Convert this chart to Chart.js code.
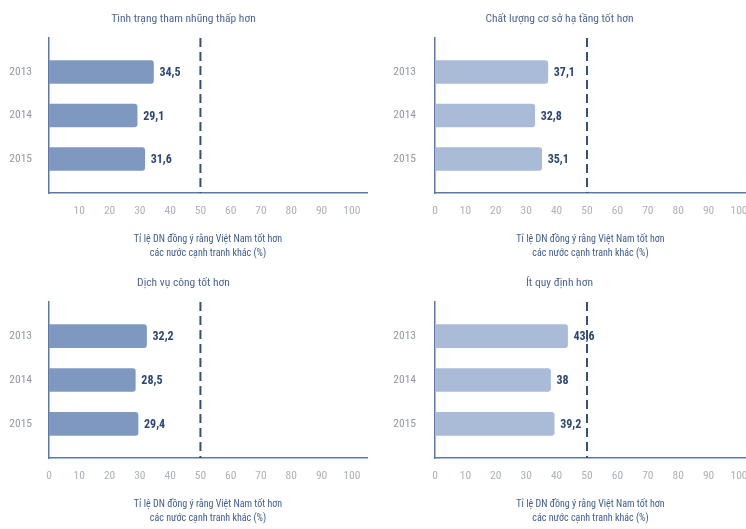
<!DOCTYPE html>
<html>
<head>
<meta charset="utf-8">
<script src="https://cdn.jsdelivr.net/npm/chart.js@4"></script>
<style>
  html, body { margin: 0; padding: 0; background: #fff; }
  #wrap { position: relative; width: 746px; height: 529px; overflow: hidden; }
  canvas { position: absolute; }
</style>
</head>
<body>
<div id="wrap">
  <canvas id="c1" width="373" height="264" style="left:0;top:0"></canvas>
  <canvas id="c2" width="373" height="264" style="left:373px;top:0"></canvas>
  <canvas id="c3" width="373" height="265" style="left:0;top:264px"></canvas>
  <canvas id="c4" width="373" height="265" style="left:373px;top:264px"></canvas>
</div>
<script>
// Données
const years = ['2013', '2014', '2015'];
const corruption = [34.5, 29.1, 31.6];      // Tình trạng tham nhũng thấp hơn
const infrastructure = [37.1, 32.8, 35.1];  // Chất lượng cơ sở hạ tầng tốt hơn
const publicService = [32.2, 28.5, 29.4];   // Dịch vụ công tốt hơn
const regulation = [43.6, 38, 39.2];        // Ít quy định hơn
const xTicks = [0, 10, 20, 30, 40, 50, 60, 70, 80, 90, 100];
const refLine = 50;
const xTitle = ['Tỉ lệ DN đồng ý rằng Việt Nam tốt hơn', 'các nước cạnh tranh khác (%)'];

const FONT = "'Roboto Condensed', 'Roboto', sans-serif";
const darkBlue = '#2d4773';
const axisBlue = '#5b78a6';

// Ligne pointillée à 50
const refLinePlugin = {
    id: 'refLine',
    afterDatasetsDraw(chart) {
        const x = chart.scales.x.getPixelForValue(refLine);
        const { top, bottom } = chart.chartArea;
        const ctx = chart.ctx;
        ctx.save();
        ctx.strokeStyle = '#34507f';
        ctx.lineWidth = 2;
        ctx.setLineDash([9, 5]);
        ctx.beginPath();
        ctx.moveTo(x, top);
        ctx.lineTo(x, bottom);
        ctx.stroke();
        ctx.restore();
    }
};

// Étiquettes de valeur au bout des barres
const valueLabelPlugin = {
    id: 'valueLabels',
    afterDatasetsDraw(chart) {
        const ctx = chart.ctx;
        const meta = chart.getDatasetMeta(0);
        ctx.save();
        ctx.font = 'bold 12px ' + FONT;
        ctx.fillStyle = darkBlue;
        ctx.textAlign = 'left';
        ctx.textBaseline = 'middle';
        meta.data.forEach((bar, i) => {
            const v = chart.data.datasets[0].data[i].x;
            ctx.fillText(String(v).replace('.', ','), bar.x + 6, bar.y + 1);
        });
        ctx.restore();
    }
};

function makeChart(id, title, values, color, opts) {
    return new Chart(document.getElementById(id), {
        type: 'bar',
        data: {
            datasets: [{
                data: values.map((v, i) => ({ x: v, y: i })),
                backgroundColor: color,
                barThickness: 23,
                borderRadius: 3
            }]
        },
        options: {
            indexAxis: 'y',
            responsive: false,
            animation: false,
            layout: { padding: { right: opts.padRight } },
            plugins: {
                legend: { display: false },
                tooltip: { enabled: false },
                title: {
                    display: true,
                    text: title,
                    color: '#4d6790',
                    font: { family: FONT, size: 11.5, weight: 'normal', lineHeight: '16px' },
                    padding: { top: 11, bottom: 11 }
                }
            },
            scales: {
                x: {
                    type: 'linear',
                    min: 0,
                    max: opts.xMax,
                    afterBuildTicks(scale) {
                        // la borne max est ajoutée sans libellé
                        scale.ticks = xTicks.concat([opts.xMax]).map(t => ({ value: t }));
                    },
                    afterFit(scale) {
                        scale.height = 71;
                        scale.paddingLeft = 0;
                        scale.paddingRight = 0;
                    },
                    grid: { display: false, drawTicks: false },
                    border: { display: true, color: axisBlue, width: 1.5 },
                    ticks: {
                        padding: 11,
                        color: '#aab2be',
                        font: { family: FONT, size: 11.5 },
                        maxRotation: 0,
                        autoSkip: false,
                        callback: v => (v % 10 !== 0 || (opts.hideZero && v === 0)) ? '' : v
                    },
                    title: {
                        display: true,
                        text: xTitle,
                        color: '#3f5d8c',
                        font: { family: FONT, size: 10, lineHeight: '14px' },
                        padding: { top: 0, bottom: 4 }
                    }
                },
                y: {
                    type: 'linear',
                    reverse: true,
                    offset: false,
                    min: -0.78,
                    max: 2.78,
                    afterBuildTicks(scale) {
                        scale.ticks = years.map((y, i) => ({ value: i }));
                    },
                    afterFit(scale) { scale.width = opts.left; },
                    grid: { display: false, drawTicks: false },
                    border: { display: true, color: axisBlue, width: 1.5 },
                    ticks: {
                        padding: opts.tickPad,
                        color: '#9098a4',
                        font: { family: FONT, size: 11.5 },
                        callback: v => years[v] !== undefined ? years[v] : ''
                    }
                }
            }
        },
        plugins: [refLinePlugin, valueLabelPlugin]
    });
}

const leftColor = '#7f98c0';
const rightColor = '#a9bbd7';

makeChart('c1', 'Tình trạng tham nhũng thấp hơn', corruption, leftColor,
    { xMax: 105, padRight: 6, left: 49, tickPad: 17, hideZero: true });
makeChart('c2', 'Chất lượng cơ sở hạ tầng tốt hơn', infrastructure, rightColor,
    { xMax: 102.3, padRight: 0, left: 62, tickPad: 19, hideZero: false });
makeChart('c3', 'Dịch vụ công tốt hơn', publicService, leftColor,
    { xMax: 105, padRight: 6, left: 49, tickPad: 17, hideZero: false });
makeChart('c4', 'Ít quy định hơn', regulation, rightColor,
    { xMax: 102.3, padRight: 0, left: 62, tickPad: 19, hideZero: false });
</script>
</body>
</html>
